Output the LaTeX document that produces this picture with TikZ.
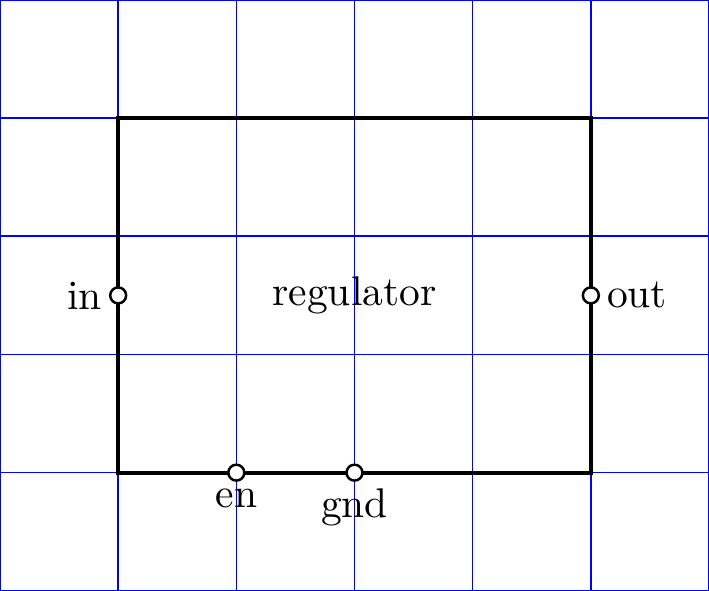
\documentclass[tikz,border=0pt]{standalone}
\begin{document}
\begin{tikzpicture}[
  gridline/.style={blue, line width=0.4pt},
  boxline/.style={line width=1.0pt},
  pin/.style={circle, draw, fill=white, line width=0.6pt, inner sep=0pt, minimum size=0.135cm},
  pinlabel/.style={inner sep=1.5pt}
]
\useasboundingbox (0,0) rectangle (6,5);
\draw[gridline] (0,0) grid (6,5);
\node[draw, boxline, minimum width=4cm, minimum height=3cm, inner sep=0pt] (reg) at (3,2.5) {};
\node (lbl) at (3,2.5) {regulator};
\node[pin, label={[pinlabel]left:in}] (pin) at (1,2.5) {};
\node[pin, label={[pinlabel]right:out}] (pout) at (5,2.5) {};
\node[pin, label={[pinlabel]below:en}] (pen) at (2,1) {};
\node[pin, label={[pinlabel]below:gnd}] (pgnd) at (3,1) {};
\end{tikzpicture}
\end{document}
